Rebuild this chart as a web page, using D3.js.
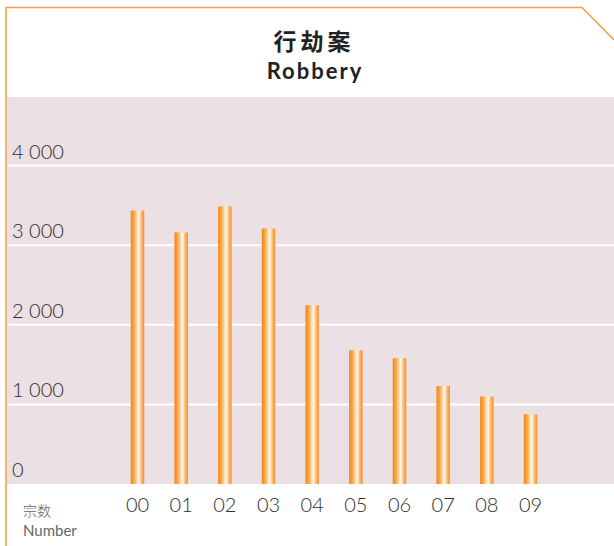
<!DOCTYPE html>
<html>
<head>
<meta charset="utf-8">
<script src="https://cdn.jsdelivr.net/npm/d3@7"></script>
<style>
  html, body { margin: 0; padding: 0; background: #fff; }
  svg { display: block; }
</style>
</head>
<body>
<div id="svg-container"></div>
<script>
// data
const years = ["00", "01", "02", "03", "04", "05", "06", "07", "08", "09"];
const robbery = [3435, 3160, 3485, 3210, 2245, 1680, 1580, 1230, 1100, 875];
const yTicks = [0, 1000, 2000, 3000, 4000];
const titleZh = "行劫案";
const titleEn = "Robbery";
const unitZh = "宗数";
const unitEn = "Number";

// svg
const width = 614;
const height = 546;
const svg = d3.select("#svg-container").append("svg")
  .attr("width", width).attr("height", height);

const plot = { left: 7, right: 614, top: 97, bottom: 484 };

// scales
const xScale = d3.scalePoint().domain(years).range([137.5, 530.5]);
const yScale = d3.scaleLinear().domain([0, 4000]).range([plot.bottom, 165.5]);
const fmt = (v) => d3.format(",")(v).replace(",", " ");

// gradient for bars
const grad = svg.append("defs").append("linearGradient")
  .attr("id", "barGrad").attr("x1", "0%").attr("x2", "100%");
[["0%", "#f5861a"], ["25%", "#f9a748"], ["50%", "#fde3c0"], ["60%", "#fff8ee"],
 ["78%", "#fbbd78"], ["100%", "#f68f22"]].forEach(([o, c]) =>
  grad.append("stop").attr("offset", o).attr("stop-color", c));

// background
svg.append("rect")
  .attr("x", plot.left).attr("y", plot.top)
  .attr("width", plot.right - plot.left).attr("height", plot.bottom - plot.top)
  .attr("fill", "#ebe0e4");

// frame
svg.append("path")
  .attr("d", "M6,546 L6,7.5 L582,7.5 L614,40")
  .attr("fill", "none")
  .attr("stroke", "#f7a04a")
  .attr("stroke-width", 1.6);

// gridlines
svg.append("g").selectAll("line")
  .data(yTicks.filter((d) => d > 0))
  .join("line")
  .attr("x1", plot.left).attr("x2", plot.right)
  .attr("y1", (d) => yScale(d)).attr("y2", (d) => yScale(d))
  .attr("stroke", "#fff").attr("stroke-width", 2);

// y labels
svg.append("g").selectAll("text")
  .data(yTicks)
  .join("text")
  .attr("x", 12)
  .attr("y", (d) => yScale(d) - 7)
  .style("font-family", "Lato, 'Open Sans', sans-serif")
  .style("font-weight", 300)
  .style("font-size", "20px")
  .attr("fill", "#2e2e2e")
  .text(fmt);

// bars
const bw = 13.5;
svg.append("g").selectAll("rect")
  .data(robbery)
  .join("rect")
  .attr("x", (d, i) => xScale(years[i]) - bw / 2)
  .attr("y", (d) => yScale(d))
  .attr("width", bw)
  .attr("height", (d) => yScale(0) - yScale(d))
  .attr("fill", "url(#barGrad)");

// x labels
svg.append("g").selectAll("text")
  .data(years)
  .join("text")
  .attr("x", (d) => xScale(d))
  .attr("y", 512)
  .style("text-anchor", "middle")
  .style("font-family", "Lato, 'Open Sans', sans-serif")
  .style("font-weight", 300)
  .style("font-size", "20px")
  .attr("fill", "#2e2e2e")
  .text((d) => d);

// axis unit
svg.append("text")
  .attr("x", 23).attr("y", 516)
  .style("font-family", "'Noto Sans CJK SC', sans-serif")
  .style("font-weight", 300)
  .style("font-size", "14px")
  .attr("fill", "#666")
  .text(unitZh);
svg.append("text")
  .attr("x", 23).attr("y", 536)
  .style("font-family", "Lato, 'Open Sans', sans-serif")
  .style("font-size", "15px")
  .attr("fill", "#666")
  .text(unitEn);

// title
svg.append("text")
  .attr("x", 314).attr("y", 49.5)
  .style("text-anchor", "middle")
  .style("font-family", "'Noto Sans CJK SC', sans-serif")
  .style("font-weight", 700)
  .style("font-size", "23px")
  .style("letter-spacing", "4px")
  .attr("fill", "#222")
  .text(titleZh);
svg.append("text")
  .attr("x", 315).attr("y", 78.5)
  .style("text-anchor", "middle")
  .style("font-family", "Lato, 'Open Sans', sans-serif")
  .style("font-weight", 700)
  .style("font-size", "22px")
  .style("letter-spacing", "2px")
  .attr("fill", "#222")
  .text(titleEn);
</script>
</body>
</html>
